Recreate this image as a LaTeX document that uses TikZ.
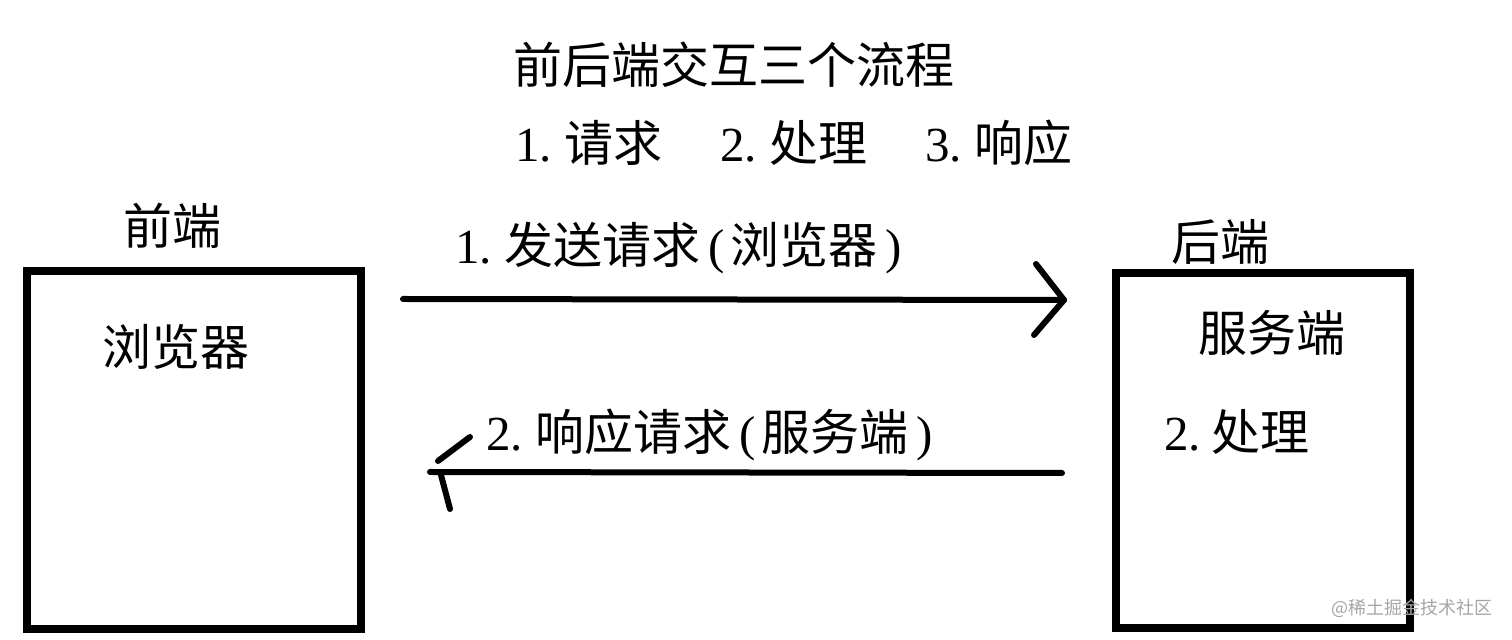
\documentclass[tikz,border=0pt]{standalone}
\usepackage{fontspec}
\setmainfont{Liberation Serif}
\newfontfamily\cjkfont{Noto Sans CJK SC}
\newcommand\zh[1]{{\cjkfont #1}}
\newcommand\lpar{\kern4pt(\kern3pt}
\newcommand\rpar{\kern4pt)}
\begin{document}
\begin{tikzpicture}[x=0.5pt,y=-0.5pt]
\tikzset{
  frame/.style={draw=black,line width=4pt,inner sep=0pt},
  txt/.style={inner sep=0pt,font=\fontsize{24.5pt}{28pt}\selectfont},
  conn/.style={line width=3pt,line cap=round,line join=round},
  wm/.style={inner sep=0pt,text=black!35,font=\fontsize{9pt}{10pt}\selectfont\cjkfont}
}
\useasboundingbox[fill=white] (0,0) rectangle (1512,640);

% boxes
\node[frame,minimum width=167pt,minimum height=179pt] (front) at (194,450) {};
\node[frame,minimum width=147pt,minimum height=177.5pt] (back) at (1263,450.5) {};

% title
\node[txt,anchor=west] (title) at (513,65) {\zh{前后端交互三个流程}};
\node[txt,anchor=west] (s1) at (515,143) {1.\ \zh{请求}};
\node[txt,anchor=west] (s2) at (720,143) {2.\ \zh{处理}};
\node[txt,anchor=west] (s3) at (925,143) {3.\ \zh{响应}};

% box labels
\node[txt] (frontlbl) at (172,226) {\zh{前端}};
\node[txt] (browser) at (176,347) {\zh{浏览器}};
\node[txt] (backlbl) at (1220,242) {\zh{后端}};
\node[txt] (server) at (1272,333) {\zh{服务端}};
\node[txt,anchor=west] (proc) at (1164,432) {2.\kern5pt\zh{处理}};

% arrow labels
\node[txt,anchor=west] (l1) at (455,248) {1.\ \zh{发送请求}\lpar\zh{浏览器}\rpar};
\node[txt,anchor=west] (l2) at (486,435) {2.\ \zh{响应请求}\lpar\zh{服务端}\rpar};

% arrow 1 (request)
\coordinate (r1s) at (403,299);
\coordinate (r1e) at (1064,300);
\coordinate (h1a) at (1036,264);
\coordinate (h1b) at (1034,335);
\draw[conn] (r1s) -- (r1e);
\draw[conn] (h1a) -- (r1e) -- (h1b);

% arrow 2 (response)
\coordinate (r2s) at (1062,473);
\coordinate (r2e) at (430,472);
\coordinate (h2a1) at (438,461);
\coordinate (h2a2) at (470,437);
\coordinate (h2b1) at (441,475);
\coordinate (h2b2) at (450,509);
\draw[conn] (r2s) -- (r2e);
\draw[conn] (h2a1) -- (h2a2);
\draw[conn] (h2b1) -- (h2b2);

% watermark
\node[wm,anchor=east] (wmark) at (1493,608) {@稀土掘金技术社区};
\end{tikzpicture}
\end{document}
